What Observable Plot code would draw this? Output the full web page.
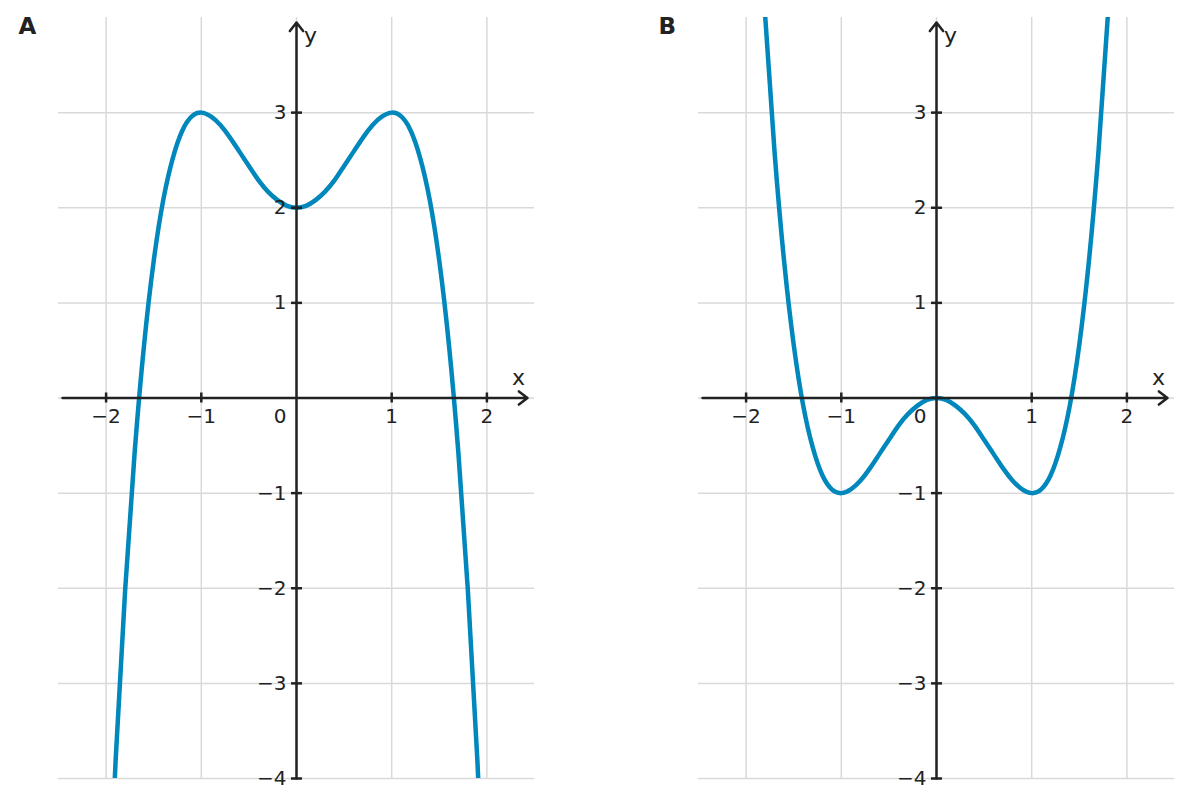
<!DOCTYPE html>
<html><head><meta charset="utf-8">
<script src="https://cdn.jsdelivr.net/npm/d3@7"></script>
<script src="https://cdn.jsdelivr.net/npm/@observablehq/plot@0.6"></script>
<style>
html,body{margin:0;padding:0;background:#fff;overflow:hidden;}
#wrap{position:relative;width:1191px;height:807px;}
.panel{position:absolute;top:0;}
</style></head><body>
<div id="wrap"></div>
<script>
const xs = [-2.0,-1.9,-1.8,-1.7,-1.6,-1.5,-1.4,-1.3,-1.2,-1.1,-1.0,-0.9,-0.8,-0.7,-0.6,-0.5,-0.4,-0.3,-0.2,-0.1,0,
            0.1,0.2,0.3,0.4,0.5,0.6,0.7,0.8,0.9,1.0,1.1,1.2,1.3,1.4,1.5,1.6,1.7,1.8,1.9,2.0];
const yA = [-6,-3.81,-2.02,-0.57,0.57,1.44,2.08,2.52,2.81,2.96,3,2.96,2.87,2.74,2.59,2.44,2.29,2.17,2.08,2.02,2,
            2.02,2.08,2.17,2.29,2.44,2.59,2.74,2.87,2.96,3,2.96,2.81,2.52,2.08,1.44,0.57,-0.57,-2.02,-3.81,-6];
const yB = [8,5.81,4.02,2.57,1.43,0.56,-0.08,-0.52,-0.81,-0.96,-1,-0.96,-0.87,-0.74,-0.59,-0.44,-0.29,-0.17,-0.08,-0.02,0,
            -0.02,-0.08,-0.17,-0.29,-0.44,-0.59,-0.74,-0.87,-0.96,-1,-0.96,-0.81,-0.52,-0.08,0.56,1.43,2.57,4.02,5.81,8];
const panelLabels = ["A", "B"];
const xTicks = [-2, -1, 1, 2];
const yTicks = [-4, -3, -2, -1, 1, 2, 3];
const gridX = [-2, -1, 0, 1, 2];
const gridY = [-4, -3, -2, -1, 0, 1, 2, 3];
const xDomain = [-2.5, 2.5];
const yDomain = [-4, 4];
const axisNames = ["x", "y"];

const ink = "#222222";
const fmt = d => String(d).replace("-", "\u2212");

function panel(ys, label) {
  const data = xs.map((x, i) => ({x, y: ys[i]}));
  return Plot.plot({
    width: 551, height: 807,
    marginLeft: 58, marginRight: 17, marginTop: 17, marginBottom: 29,
    x: {domain: xDomain, axis: null},
    y: {domain: yDomain, axis: null},
    style: {fontFamily: "DejaVu Sans", fontSize: "20px", color: ink, background: "transparent", overflow: "visible"},
    marks: [
      Plot.ruleX(gridX, {x: d => d, stroke: "#d9d9d9", strokeWidth: 1.5}),
      Plot.ruleY(gridY, {y: d => d, stroke: "#d9d9d9", strokeWidth: 1.5}),
      Plot.line(data, {x: "x", y: "y", curve: "natural", stroke: "#0087bb", strokeWidth: 4.5, clip: true}),
      Plot.arrow([0], {x1: xDomain[0], x2: xDomain[1], y1: 0, y2: 0, insetStart: 4, insetEnd: 7,
        stroke: ink, strokeWidth: 2.5, headAngle: 75, headLength: 6.5}),
      Plot.arrow([0], {x1: 0, x2: 0, y1: yDomain[0], y2: yDomain[1], insetStart: 0, insetEnd: 5,
        stroke: ink, strokeWidth: 2.5, headAngle: 75, headLength: 6.5}),
      Plot.ruleX(xTicks, {x: d => d, y1: 0, y2: 0, insetTop: -5, insetBottom: -5, stroke: ink, strokeWidth: 2.5}),
      Plot.ruleY(yTicks, {y: d => d, x1: 0, x2: 0, insetLeft: -5, insetRight: -6, stroke: ink, strokeWidth: 2.5}),
      Plot.text(xTicks, {x: d => d, y: 0, text: fmt, dy: 19, fontSize: 20, fill: ink}),
      Plot.text(yTicks, {x: 0, y: d => d, text: fmt, textAnchor: "end", dx: -10, fontSize: 20, fill: ink}),
      Plot.text(["0"], {x: 0, y: 0, text: d => d, textAnchor: "end", dx: -10, dy: 19, fontSize: 20, fill: ink}),
      Plot.text([axisNames[0]], {x: xDomain[1], y: 0, text: d => d, dx: -16, dy: -20, fontSize: 22, fill: ink}),
      Plot.text([axisNames[1]], {x: 0, y: yDomain[1], text: d => d, dx: 14, dy: 18, fontSize: 22, fill: ink}),
      Plot.text([label], {frameAnchor: "top-left", text: d => d, dx: -40, dy: 0, lineAnchor: "top",
        textAnchor: "start", fontSize: 23, fontWeight: "bold", fill: ink})
    ]
  });
}

const wrap = document.getElementById("wrap");
[[yA, 0], [yB, 640]].forEach(([ys, left], i) => {
  const div = document.createElement("div");
  div.className = "panel";
  div.style.left = left + "px";
  div.appendChild(panel(ys, panelLabels[i]));
  wrap.appendChild(div);
});
</script>
</body></html>
